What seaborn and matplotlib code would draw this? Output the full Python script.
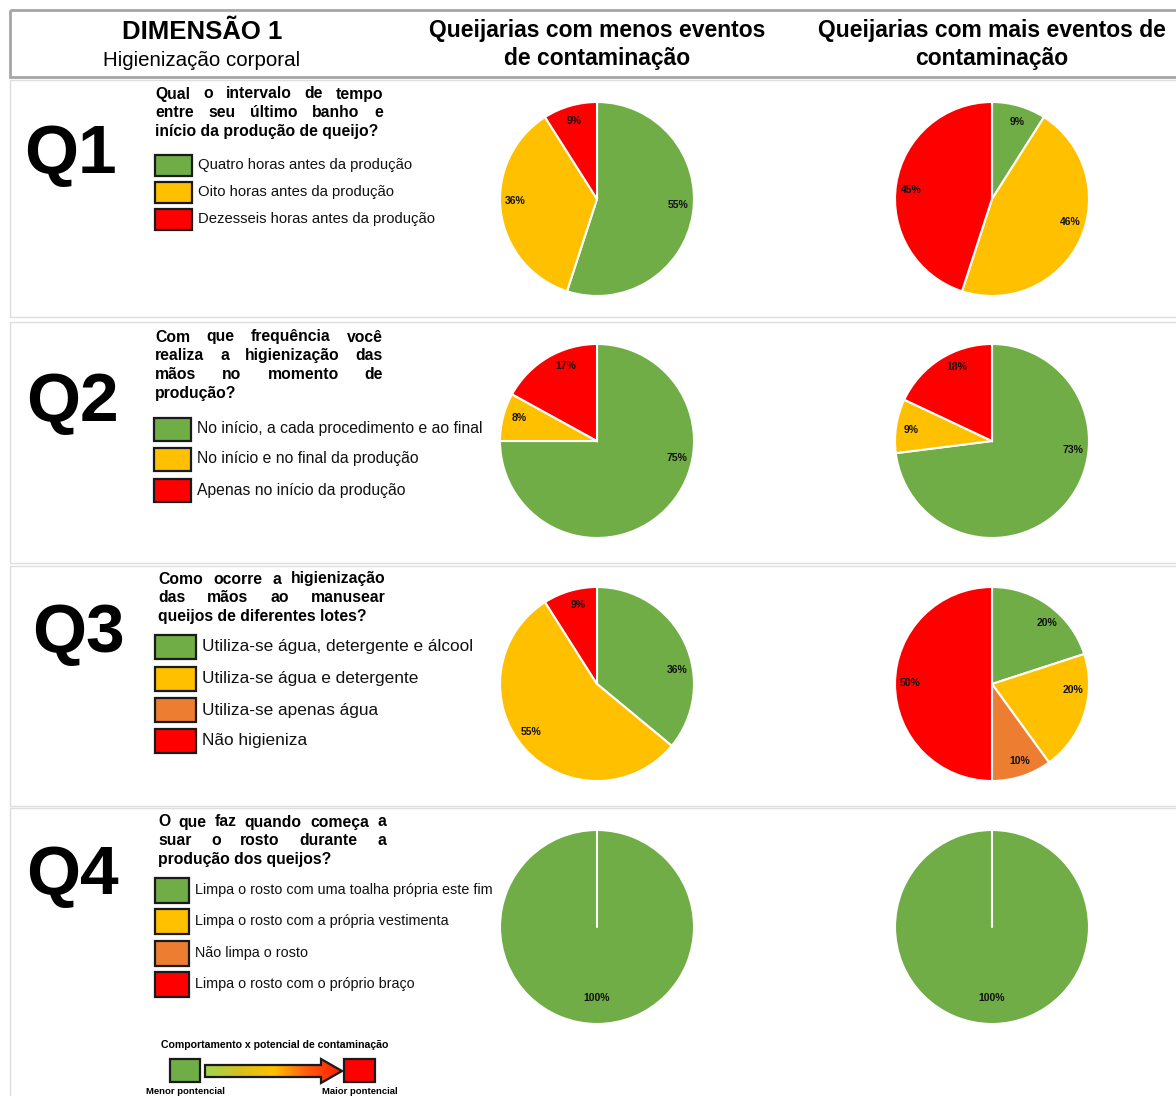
import matplotlib
matplotlib.use("Agg")
import matplotlib.pyplot as plt
from matplotlib.patches import Rectangle, Polygon
from matplotlib.colors import LinearSegmentedColormap
import numpy as np
import seaborn as sns

sns.set_style("white")
plt.rcParams['font.family'] = ['Liberation Sans', 'DejaVu Sans']
plt.rcParams['text.color'] = 'black'

W, H = 1176, 1096

GREEN, YELLOW, ORANGE, RED = '#70AD47', '#FFC000', '#ED7D31', '#FF0000'

# ---- data ----
q_labels = ['Q1', 'Q2', 'Q3', 'Q4']

q1_lines = ['Qual o intervalo de tempo', 'entre seu último banho e',
            'início da produção de queijo?']
q2_lines = ['Com que frequência você', 'realiza a higienização das',
            'mãos no momento de', 'produção?']
q3_lines = ['Como ocorre a higienização', 'das mãos ao manusear',
            'queijos de diferentes lotes?']
q4_lines = ['O que faz quando começa a', 'suar o rosto durante a',
            'produção dos queijos?']

q1_options = ['Quatro horas antes da produção', 'Oito horas antes da produção',
              'Dezesseis horas antes da produção']
q2_options = ['No início, a cada procedimento e ao final',
              'No início e no final da produção', 'Apenas no início da produção']
q3_options = ['Utiliza-se água, detergente e álcool', 'Utiliza-se água e detergente',
              'Utiliza-se apenas água', 'Não higieniza']
q4_options = ['Limpa o rosto com uma toalha própria este fim',
              'Limpa o rosto com a própria vestimenta', 'Não limpa o rosto',
              'Limpa o rosto com o próprio braço']

q1_colors = [GREEN, YELLOW, RED]
q2_colors = [GREEN, YELLOW, RED]
q3_colors = [GREEN, YELLOW, ORANGE, RED]
q4_colors = [GREEN, YELLOW, ORANGE, RED]

# percentages: fewer contamination events / more contamination events
q1_less = [55, 36, 9]
q1_more = [9, 46, 45]
q2_less = [75, 8, 17]
q2_more = [73, 9, 18]
q3_less = [36, 55, 0, 9]
q3_more = [20, 20, 10, 50]
q4_less = [100, 0, 0, 0]
q4_more = [100, 0, 0, 0]

col_titles = [['Queijarias com menos eventos', 'de contaminação'],
              ['Queijarias com mais eventos de', 'contaminação']]

# ---- layout (pixels) ----
# lab_*: angular nudge (deg) of each percentage label from its wedge middle
panels = [
    dict(lines=q1_lines, opts=q1_options, cols=q1_colors, less=q1_less, more=q1_more,
         q_x=70, q_base=173, tx=(155, 383), ty=94, tdy=18.7,
         bx=(155, 192), by=[165, 192, 219], bh=21, lfs=10.7, rect=(80, 317), pcy=199,
         lab_less=[5, -6, 0], lab_more=[-2, 9, 3]),
    dict(lines=q2_lines, opts=q2_options, cols=q2_colors, less=q2_less, more=q2_more,
         q_x=72, q_base=421, tx=(155, 383), ty=337, tdy=18.7,
         bx=(154, 191), by=[429, 459, 490], bh=23, lfs=11.3, rect=(322, 563), pcy=441,
         lab_less=[33, -2, -8], lab_more=[35, 1, -7]),
    dict(lines=q3_lines, opts=q3_options, cols=q3_colors, less=q3_less, more=q3_more,
         q_x=78, q_base=652, tx=(158, 386), ty=579, tdy=19,
         bx=(155, 196), by=[647, 679, 710, 741], bh=24, lfs=12.4, rect=(566, 806), pcy=684,
         lab_less=[-15, -5, -3], lab_more=[-6, 14, 2, -1]),
    dict(lines=q4_lines, opts=q4_options, cols=q4_colors, less=q4_less, more=q4_more,
         q_x=72, q_base=894, tx=(158, 386), ty=822, tdy=18.7,
         bx=(155, 189), by=[890, 921, 953, 984], bh=25, lfs=10.4, rect=(808, 1100), pcy=927,
         lab_less=[0], lab_more=[0]),
]
pie_cx = [597, 992]
pie_r = 97

fig = plt.figure(figsize=(W / 100, H / 100), dpi=100)
ax = fig.add_axes([0, 0, 1, 1])
ax.set_xlim(0, W)
ax.set_ylim(H, 0)
ax.axis('off')
renderer = fig.canvas.get_renderer()


def justified(lines, x0, x1, y, dy, **kw):
    for i, line in enumerate(lines):
        yy = y + i * dy
        words = line.split()
        if i == len(lines) - 1 or len(words) == 1:
            ax.text(x0, yy, line, ha='left', va='center', **kw)
            continue
        texts = [ax.text(0, yy, w, ha='left', va='center', **kw) for w in words]
        widths = [t.get_window_extent(renderer).width for t in texts]
        gap = (x1 - x0 - sum(widths)) / (len(words) - 1)
        x = x0
        for t, w in zip(texts, widths):
            t.set_x(x)
            x += w + gap


# header
ax.add_patch(Rectangle((10, 10), W, 67, fill=False, ec='#a6a6a6', lw=2))
ax.text(202, 32, 'DIMENSÃO 1', ha='center', va='center', fontsize=18.5, fontweight='bold')
ax.text(202, 60, 'Higienização corporal', ha='center', va='center', fontsize=14.8)
for cx, title in zip(pie_cx, col_titles):
    ax.text(cx, 31, title[0], ha='center', va='center', fontsize=16.5, fontweight='bold')
    ax.text(cx, 59, title[1], ha='center', va='center', fontsize=16.5, fontweight='bold')

for qi, p in enumerate(panels):
    top, bot = p['rect']
    ax.add_patch(Rectangle((10, top), W, bot - top, fill=False, ec='#dedede', lw=1))
    ax.text(p['q_x'], p['q_base'], q_labels[qi], ha='center', va='baseline',
            fontsize=50, fontweight='bold')
    justified(p['lines'], p['tx'][0], p['tx'][1], p['ty'], p['tdy'],
              fontsize=11.3, fontweight='bold')
    bx0, bx1 = p['bx']
    for yc, opt, col in zip(p['by'], p['opts'], p['cols']):
        ax.add_patch(Rectangle((bx0, yc - p['bh'] / 2), bx1 - bx0, p['bh'],
                               fc=col, ec='#1a1a1a', lw=1.6))
        ax.text(bx1 + 6, yc, opt, ha='left', va='center', fontsize=p['lfs'], color='#111111')

    for cx, vals, nudges in zip(pie_cx, [p['less'], p['more']], [p['lab_less'], p['lab_more']]):
        pax = fig.add_axes([(cx - pie_r - 2) / W, 1 - (p['pcy'] + pie_r + 2) / H,
                            (2 * pie_r + 4) / W, (2 * pie_r + 4) / H])
        sizes = [v for v in vals if v > 0]
        colors = [c for v, c in zip(vals, p['cols']) if v > 0]
        wedges, _, autotexts = pax.pie(
            sizes, colors=colors, startangle=90, counterclock=False,
            autopct='%.0f%%', pctdistance=0.84,
            wedgeprops=dict(edgecolor='white', linewidth=1.5),
            textprops=dict(fontsize=7.5, fontweight='bold', color='#111111'))
        dist = 0.84 if len(sizes) > 1 else 0.73
        for w, t, nd in zip(wedges, autotexts, nudges):
            ang = np.deg2rad((w.theta1 + w.theta2) / 2 + nd)
            t.set_position((dist * np.cos(ang), dist * np.sin(ang)))
        if len(sizes) == 1:
            # the seam of a full wedge, drawn white as in the source chart
            pax.plot([0, 0], [0, 1], color='white', lw=1.5)
        lim = 1 + 2 / pie_r
        pax.set_xlim(-lim, lim)
        pax.set_ylim(-lim, lim)

# bottom key: behaviour x contamination potential
ax.text(275, 1045, 'Comportamento x potencial de contaminação', ha='center', va='center',
        fontsize=7.6, fontweight='bold')
ax.add_patch(Rectangle((170, 1059), 30, 23, fc=GREEN, ec='#1a1a1a', lw=1.6))
ax.add_patch(Rectangle((344, 1059), 31, 23, fc=RED, ec='#1a1a1a', lw=1.6))
arrow_pts = [(205, 1065), (321, 1065), (321, 1059), (342, 1071), (321, 1083),
             (321, 1077), (205, 1077)]
arrow = Polygon(arrow_pts, closed=True, fc='none', ec='#1a1a1a', lw=1.6, zorder=3)
ax.add_patch(arrow)
grad_cmap = LinearSegmentedColormap.from_list(
    'grad', ['#9FD652', '#D4C11F', '#FFC000', '#FF5A10', '#FF1A00'])
img = ax.imshow(np.linspace(0, 1, 256).reshape(1, -1), cmap=grad_cmap, aspect='auto',
                extent=(205, 342, 1083, 1059), zorder=2)
img.set_clip_path(arrow)
ax.text(185, 1091, 'Menor pontencial', ha='center', va='center', fontsize=6.8, fontweight='bold')
ax.text(360, 1091, 'Maior pontencial', ha='center', va='center', fontsize=6.8, fontweight='bold')

ax.set_xlim(0, W)
ax.set_ylim(H, 0)

fig.savefig('out.png', dpi=100)
